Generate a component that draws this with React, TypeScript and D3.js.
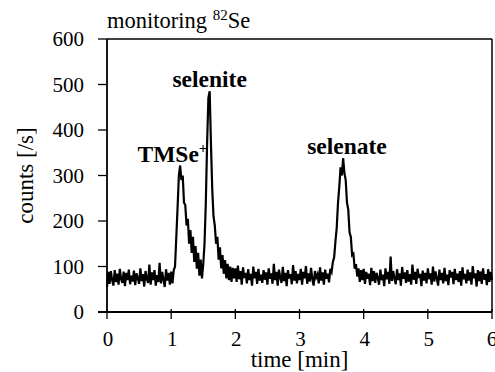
import { useMemo } from 'react'
import * as d3 from 'd3'

// time step of the trace, minutes
const STEP = 0.02

// counts [/s] at 0.02 min intervals (0.00 .. 6.00)
const counts: number[] = [
  // 0.00 - 0.48
  55, 88, 62, 90, 70, 58, 92, 66, 84, 60, 95, 72, 64, 89, 57, 86, 70, 93, 61, 80, 67, 91, 59, 85, 74,
  // 0.50 - 0.98
  62, 96, 68, 83, 56, 90, 73, 64, 104, 60, 87, 70, 92, 58, 81, 66, 108, 63, 88, 71, 55, 94, 69, 86, 60,
  // 1.00 - 1.48 (TMSe+)
  89, 63, 92, 100, 165, 230, 300, 322, 290, 300, 240, 235, 190, 205, 150, 180, 130, 165, 110, 145, 95, 130, 80, 115, 74,
  // 1.50 - 1.98 (selenite)
  105, 150, 240, 370, 470, 485, 370, 270, 210, 190, 150, 165, 115, 142, 96, 125, 84, 114, 74, 106, 70, 100, 66, 97, 74,
  // 2.00 - 2.48
  96, 66, 102, 72, 90, 60, 98, 75, 86, 63, 94, 70, 84, 58, 100, 74, 88, 62, 95, 69, 82, 64, 92, 71, 87,
  // 2.50 - 2.98
  60, 96, 73, 85, 62, 106, 70, 88, 58, 93, 76, 64, 99, 68, 86, 57, 92, 74, 83, 61, 103, 69, 90, 63, 84,
  // 3.00 - 3.48
  70, 95, 60, 88, 74, 101, 62, 85, 67, 97, 72, 58, 90, 76, 83, 63, 98, 69, 87, 60, 93, 73, 84, 65, 95,
  // 3.50 - 3.98 (selenate)
  88, 110, 120, 155, 185, 240, 275, 318, 300, 338, 305, 290, 240, 225, 175, 165, 125, 128, 95, 105, 78, 96, 66, 92, 70,
  // 4.00 - 4.48
  95, 62, 88, 73, 84, 59, 97, 68, 90, 64, 86, 75, 60, 93, 70, 82, 57, 96, 72, 88, 62, 122, 68, 90, 74,
  // 4.50 - 4.98
  61, 94, 70, 85, 58, 99, 73, 87, 64, 92, 67, 83, 60, 104, 71, 88, 62, 95, 75, 84, 57, 91, 69, 86, 63,
  // 5.00 - 5.48
  96, 72, 85, 60, 100, 67, 89, 74, 58, 93, 70, 86, 63, 97, 68, 82, 59, 92, 76, 88, 61, 95, 70, 84, 66,
  // 5.50 - 5.98
  90, 58, 98, 72, 84, 63, 93, 69, 87, 60, 101, 74, 85, 56, 92, 68, 89, 62, 96, 71, 83, 59, 94, 66, 88,
  // 6.00
  70,
]

const xTicks = [0, 1, 2, 3, 4, 5, 6]
const yTicks = [0, 100, 200, 300, 400, 500, 600]

// peak labels: text, centre time, counts at label baseline
const peakLabels: { text: string; sup?: string; t: number; y: number }[] = [
  { text: 'TMSe', sup: '+', t: 1.02, y: 330 },
  { text: 'selenite', t: 1.6, y: 494 },
  { text: 'selenate', t: 3.74, y: 348 },
]

const W = 495
const H = 372
const margin = { top: 39, right: 3, bottom: 60, left: 107 }
const serif = 'Liberation Serif'

export default function App() {
  const x = d3.scaleLinear().domain([0, 6]).range([margin.left, W - margin.right])
  const y = d3.scaleLinear().domain([0, 600]).range([H - margin.bottom, margin.top])

  const path = useMemo(() => {
    const line = d3.line<number>()
      .x((_, i) => x(i * STEP))
      .y(d => y(d))
    return line(counts) || ''
  }, [])

  const x0 = x(0), x1 = x(6), y0 = y(0), y1 = y(600)
  const txt = { fontFamily: serif }

  return (
    <svg width={W} height={H} style={{ position: 'fixed', left: 0, top: 0, background: '#fff' }}>
      <rect width={W} height={H} fill="#fff" />
      {/* trace */}
      <path d={path} fill="none" stroke="#000" strokeWidth={2.2} strokeLinejoin="miter" />

      {/* frame */}
      <line x1={x0} x2={x1} y1={y1} y2={y1} stroke="#000" strokeWidth={1.5} />
      <line x1={x1} x2={x1} y1={y1} y2={y0} stroke="#000" strokeWidth={1.5} />
      <line x1={x0} x2={x0} y1={y1} y2={y0} stroke="#000" strokeWidth={1.8} />
      <line x1={x0 - 9} x2={x1} y1={y0} y2={y0} stroke="#000" strokeWidth={1.8} />

      {/* y axis */}
      {yTicks.map(v => (
        <g key={v}>
          <line x1={x0 - 9} x2={x0} y1={y(v)} y2={y(v)} stroke="#000" strokeWidth={1.3} />
          <text x={x0 - 23} y={y(v)} dy="0.35em" textAnchor="end" style={txt} fontSize={21}>
            {v}
          </text>
        </g>
      ))}

      {/* x axis */}
      {xTicks.map(v => (
        <g key={v}>
          <line x1={x(v)} x2={x(v)} y1={y0 - 3} y2={y0 + 7} stroke="#000" strokeWidth={1.3} />
          <text x={x(v) + (v === 6 ? 0 : 1)} y={y0 + 34} textAnchor="middle" style={txt} fontSize={21}>
            {v}
          </text>
        </g>
      ))}

      <text x={(x0 + x1) / 2} y={H - 5} textAnchor="middle" style={txt} fontSize={23}>
        time [min]
      </text>
      <text transform={`translate(33, ${(y0 + y1) / 2}) rotate(-90)`} textAnchor="middle"
        style={txt} fontSize={23}>
        counts [/s]
      </text>

      {/* title */}
      <text x={x0} y={28} style={txt} fontSize={22.5}>
        monitoring <tspan fontSize={15} dy={-8}>82</tspan><tspan dy={8}>Se</tspan>
      </text>

      {/* peak labels */}
      {peakLabels.map(p => (
        <text key={p.text} x={x(p.t)} y={y(p.y)} textAnchor="middle" style={txt}
          fontSize={23.5} fontWeight="bold">
          {p.text}
          {p.sup && <tspan fontSize={15} dy={-9}>{p.sup}</tspan>}
        </text>
      ))}
    </svg>
  )
}
